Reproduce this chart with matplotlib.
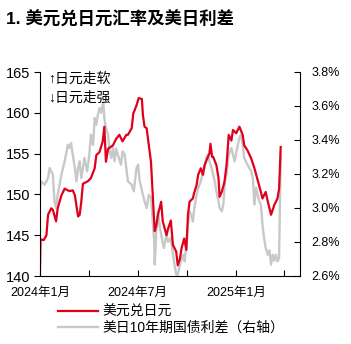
import matplotlib.pyplot as plt
import matplotlib.dates as mdates
import pandas as pd

plt.rcParams['font.family'] = ['Liberation Sans', 'Noto Sans CJK SC', 'DejaVu Sans']

# 美元兑日元 (left axis)
usdjpy_dates = [
    '2024-01-01', '2024-01-02', '2024-01-08', '2024-01-13', '2024-01-16', '2024-01-22',
    '2024-01-25', '2024-01-31', '2024-02-03', '2024-02-10', '2024-02-16', '2024-02-25',
    '2024-03-02', '2024-03-06', '2024-03-12', '2024-03-15', '2024-03-18', '2024-03-21',
    '2024-03-30', '2024-04-05', '2024-04-12', '2024-04-15', '2024-04-21', '2024-04-27',
    '2024-04-30', '2024-05-03', '2024-05-07', '2024-05-16', '2024-05-22', '2024-05-28',
    '2024-06-03', '2024-06-10', '2024-06-13', '2024-06-20', '2024-06-23', '2024-06-29',
    '2024-07-03', '2024-07-09', '2024-07-11', '2024-07-14', '2024-07-18', '2024-07-22',
    '2024-07-26', '2024-07-30', '2024-08-02', '2024-08-05', '2024-08-08', '2024-08-14',
    '2024-08-17', '2024-08-24', '2024-08-27', '2024-09-01', '2024-09-05', '2024-09-11',
    '2024-09-14', '2024-09-18', '2024-09-21', '2024-09-26', '2024-09-30', '2024-10-03',
    '2024-10-06', '2024-10-12', '2024-10-15', '2024-10-19', '2024-10-22', '2024-10-27',
    '2024-10-31', '2024-11-03', '2024-11-08', '2024-11-12', '2024-11-14', '2024-11-17',
    '2024-11-19', '2024-11-25', '2024-11-29', '2024-12-01', '2024-12-05', '2024-12-10',
    '2024-12-14', '2024-12-18', '2024-12-23', '2024-12-26', '2025-01-01', '2025-01-07',
    '2025-01-13', '2025-01-16', '2025-01-22', '2025-01-29', '2025-02-04', '2025-02-09',
    '2025-02-16', '2025-02-19', '2025-02-25', '2025-03-01', '2025-03-07', '2025-03-13',
    '2025-03-19', '2025-03-22', '2025-03-25',
]
usdjpy = [
    141.0, 144.5, 144.4, 145.0, 147.5, 148.3,
    148.1, 146.7, 148.3, 149.9, 150.7, 150.4,
    150.5, 149.9, 147.3, 147.5, 149.1, 151.3,
    151.6, 152.0, 153.2, 154.8, 155.2, 156.5,
    158.3, 154.0, 155.6, 156.0, 156.8, 157.3,
    156.5, 157.3, 157.3, 158.1, 159.9, 160.9,
    161.8, 161.7, 159.7, 158.3, 158.1, 156.0,
    154.0, 149.1, 145.5, 146.2, 147.5, 149.1,
    146.7, 145.0, 145.8, 146.8, 143.8, 143.0,
    141.3, 142.1, 143.4, 144.6, 143.2, 147.5,
    149.1, 149.5, 150.3, 151.1, 152.4, 153.2,
    152.4, 153.6, 154.4, 155.0, 156.2, 154.6,
    154.6, 153.6, 152.0, 149.7, 150.3, 151.5,
    153.6, 157.3, 156.6, 157.9, 157.5, 158.3,
    157.3, 156.0, 155.4, 154.4, 153.2, 152.0,
    150.3, 149.5, 150.3, 149.1, 147.5, 148.7,
    149.5, 150.7, 155.8,
]

# 美日10年期国债利差 (right axis, %)
spread_dates = [
    '2024-01-01', '2024-01-03', '2024-01-10', '2024-01-16', '2024-01-19', '2024-01-25',
    '2024-01-28', '2024-01-31', '2024-02-03', '2024-02-10', '2024-02-16', '2024-02-22',
    '2024-02-25', '2024-02-28', '2024-03-02', '2024-03-06', '2024-03-09', '2024-03-12',
    '2024-03-15', '2024-03-18', '2024-03-24', '2024-03-29', '2024-04-02', '2024-04-05',
    '2024-04-09', '2024-04-12', '2024-04-15', '2024-04-18', '2024-04-21', '2024-04-24',
    '2024-04-28', '2024-04-30', '2024-05-03', '2024-05-07', '2024-05-10', '2024-05-13',
    '2024-05-16', '2024-05-19', '2024-05-22', '2024-05-25', '2024-05-31', '2024-06-03',
    '2024-06-07', '2024-06-10', '2024-06-13', '2024-06-20', '2024-06-24', '2024-06-29',
    '2024-07-02', '2024-07-05', '2024-07-08', '2024-07-11', '2024-07-14', '2024-07-18',
    '2024-07-22', '2024-07-26', '2024-07-28', '2024-08-01', '2024-08-02', '2024-08-05',
    '2024-08-08', '2024-08-11', '2024-08-14', '2024-08-19', '2024-08-24', '2024-08-27',
    '2024-09-01', '2024-09-05', '2024-09-08', '2024-09-11', '2024-09-14', '2024-09-18',
    '2024-09-24', '2024-09-27', '2024-09-30', '2024-10-03', '2024-10-06', '2024-10-09',
    '2024-10-12', '2024-10-15', '2024-10-19', '2024-10-22', '2024-10-27', '2024-10-31',
    '2024-11-03', '2024-11-06', '2024-11-09', '2024-11-12', '2024-11-16', '2024-11-22',
    '2024-11-25', '2024-11-29', '2024-12-01', '2024-12-05', '2024-12-08', '2024-12-11',
    '2024-12-14', '2024-12-17', '2024-12-20', '2024-12-23', '2024-12-26', '2024-12-29',
    '2025-01-04', '2025-01-07', '2025-01-10', '2025-01-13', '2025-01-16', '2025-01-22',
    '2025-01-29', '2025-02-01', '2025-02-04', '2025-02-07', '2025-02-10', '2025-02-13',
    '2025-02-16', '2025-02-19', '2025-02-22', '2025-02-25', '2025-03-01', '2025-03-04',
    '2025-03-07', '2025-03-10', '2025-03-13', '2025-03-16', '2025-03-19', '2025-03-22',
    '2025-03-25',
]
spread = [
    3.10, 3.157, 3.137, 3.176, 3.235, 3.196,
    3.04, 3.00, 3.078, 3.196, 3.275, 3.372,
    3.353, 3.382, 3.314, 3.235, 3.157, 3.235,
    3.275, 3.176, 3.294, 3.216, 3.314, 3.431,
    3.372, 3.529, 3.49, 3.549, 3.588, 3.56,
    3.627, 3.53, 3.47, 3.43, 3.333, 3.294,
    3.353, 3.275, 3.35, 3.314, 3.255, 3.333,
    3.314, 3.235, 3.157, 3.137, 3.098, 3.235,
    3.255, 3.157, 3.118, 3.078, 3.04, 3.00,
    3.078, 3.06, 2.98, 2.804, 2.667, 2.863,
    2.98, 2.90, 2.843, 2.765, 2.843, 2.80,
    2.824, 2.725, 2.667, 2.608, 2.608, 2.667,
    2.725, 2.686, 2.784, 2.90, 2.98, 2.96,
    2.92, 3.00, 3.078, 3.118, 3.157, 3.216,
    3.235, 3.294, 3.314, 3.275, 3.235, 3.157,
    3.098, 3.04, 3.00, 2.98, 3.02, 3.157,
    3.196, 3.294, 3.333, 3.353, 3.314, 3.275,
    3.372, 3.412, 3.43, 3.372, 3.294, 3.255,
    3.216, 3.176, 3.02, 3.118, 3.078, 3.04,
    3.02, 2.902, 2.824, 2.765, 2.725, 2.75,
    2.667, 2.725, 2.69, 2.725, 2.686, 2.706,
    3.314,
]

left_ticks = [140, 145, 150, 155, 160, 165]
right_ticks = [2.6, 2.8, 3.0, 3.2, 3.4, 3.6, 3.8]

red = '#E0001B'
grey = '#C8C8C8'

fig = plt.figure(figsize=(3.51, 3.44), dpi=100)
ax = fig.add_axes([40 / 351, 1 - 276 / 344, 260 / 351, 204 / 344])
ax2 = ax.twinx()

ln2, = ax2.plot(pd.to_datetime(spread_dates), spread, color=grey, lw=1.7)
ln1, = ax.plot(pd.to_datetime(usdjpy_dates), usdjpy, color=red, lw=1.6)
ax.set_zorder(ax2.get_zorder() + 1)
ax.patch.set_visible(False)

ax.set_xlim(pd.Timestamp('2024-01-01'), pd.Timestamp('2025-04-30'))
ax.set_ylim(140, 165)
ax2.set_ylim(2.6, 3.8)

ax.set_yticks(left_ticks)
ax.set_yticklabels([str(t) for t in left_ticks])
ax2.set_yticks(right_ticks)
ax2.set_yticklabels(['%.1f%%' % t for t in right_ticks])

ax.xaxis.set_major_locator(mdates.MonthLocator(bymonth=[1, 4, 7, 10]))
ax.xaxis.set_major_formatter(plt.FuncFormatter(
    lambda v, p: '%d年%d月' % (mdates.num2date(v).year, mdates.num2date(v).month)
    if mdates.num2date(v).month in (1, 7) else ''))

for a in (ax, ax2):
    a.spines['top'].set_visible(False)
ax.spines['right'].set_visible(False)
ax2.spines['left'].set_visible(False)
ax2.spines['bottom'].set_visible(False)

ax.tick_params(axis='y', direction='out', length=4, width=0.8, pad=3, labelsize=10.5)
ax.tick_params(axis='x', direction='in', length=4, width=0.8, pad=8, labelsize=9)
ax2.tick_params(axis='y', direction='in', length=4, width=0.8, pad=8, labelsize=9)

ax.text(0.03, 0.965, '↑日元走软', transform=ax.transAxes, fontsize=10, va='center')
ax.text(0.03, 0.873, '↓日元走强', transform=ax.transAxes, fontsize=10, va='center')

fig.text(6 / 351, 1 - 19 / 344, '1. 美元兑日元汇率及美日利差', fontsize=12.5,
         fontweight='bold', va='center', ha='left')

fig.legend([ln1, ln2], ['美元兑日元', '美日10年期国债利差（右轴）'],
           loc='upper left', bbox_to_anchor=(58 / 351, 1 - 305 / 344),
           frameon=False, fontsize=10, handlelength=2.9, handletextpad=0.3,
           labelspacing=0.15, borderaxespad=0, borderpad=0)

fig.savefig('out.png', dpi=100)
